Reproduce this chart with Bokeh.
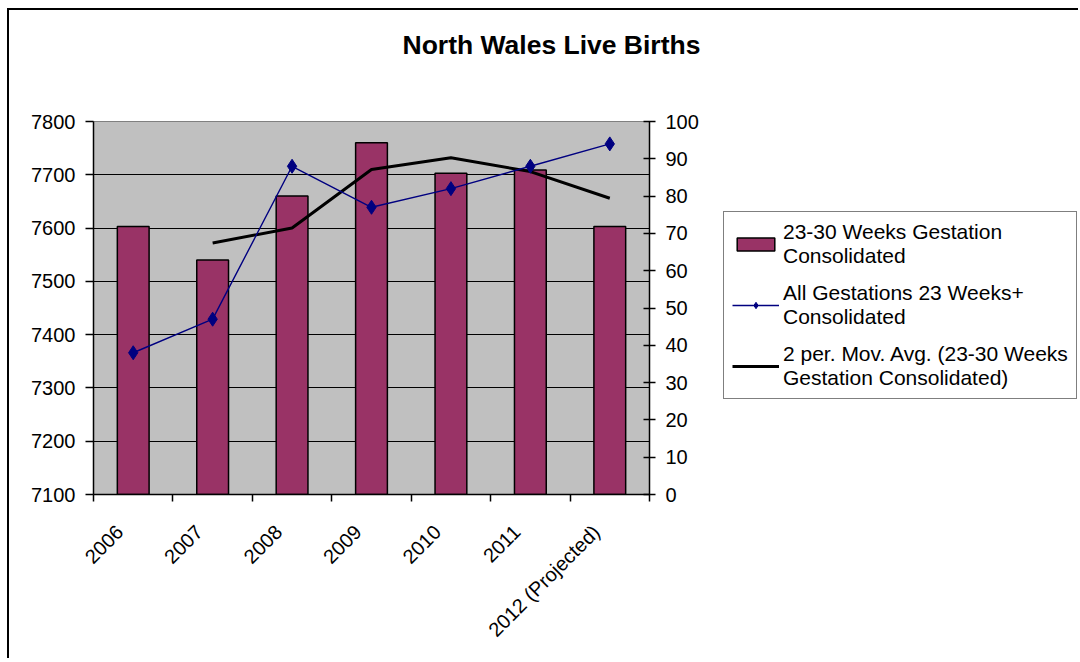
import math
import numpy as np
from bokeh.plotting import figure
from bokeh.layouts import row
from bokeh.models import (Range1d, LinearAxis, FixedTicker, SingleIntervalTicker,
                          Legend, LegendItem, Title)
from bokeh.embed import file_html
from bokeh.resources import INLINE

# ---- data ----
years = ["2006", "2007", "2008", "2009", "2010", "2011", "2012 (Projected)"]
births_23_30 = [7603, 7540, 7660, 7760, 7703, 7709, 7603]      # left axis, bars
all_gestations = [38, 47, 88, 77, 82, 88, 94]                   # right axis, line
moving_avg_years = ["2007", "2008", "2009", "2010", "2011", "2012 (Projected)"]
moving_avg = [7572, 7600, 7710, 7732, 7706, 7656]               # 2-period moving average

FONT = "Liberation Sans"
BAR_FILL = "#993366"
NAVY = "#000080"
LABEL_SHIFT = 0.17   # rotated category labels end slightly left of the category centre

pos = {yr: i + 0.5 for i, yr in enumerate(years)}
x = [pos[y] for y in years]
x_ma = [pos[y] for y in moving_avg_years]
label_pos = {y: pos[y] - LABEL_SHIFT for y in years}

p = figure(width=700, height=648, output_backend="svg", toolbar_location=None, tools="",
           x_range=Range1d(0, len(years)), y_range=Range1d(7100, 7800),
           min_border_left=84, min_border_right=60, min_border_top=111, min_border_bottom=164,
           background_fill_color="#C0C0C0", border_fill_color="white",
           outline_line_color="#808080", outline_line_width=1)
p.extra_y_ranges = {"right": Range1d(0, 100)}

# title (spacer title keeps the real one high above the plot area)
p.add_layout(Title(text=" ", text_font_size="10px", standoff=39), "above")
p.add_layout(Title(text="North Wales Live Births", align="left", offset=309, standoff=20,
                   text_font=FONT, text_font_size="26.5px", text_font_style="bold",
                   text_color="black"), "above")

# glyphs
bars = p.vbar(x=x, top=births_23_30, bottom=7100, width=0.4,
              fill_color=BAR_FILL, line_color="black", line_width=1.5)
ma = p.line(x_ma, moving_avg, line_color="black", line_width=3)
bl = p.line(x, all_gestations, line_color=NAVY, line_width=1.4, y_range_name="right")
bs = p.scatter(x, all_gestations, marker="diamond", size=14, fill_color=NAVY,
               line_color=NAVY, y_range_name="right")

# x axis: labels near centres, ticks at category boundaries
xa = p.xaxis[0]
xa.ticker = FixedTicker(ticks=[label_pos[y] for y in years],
                        minor_ticks=list(range(len(years) + 1)))
xa.major_label_overrides = {label_pos[y]: y for y in years}
xa.major_tick_out = 0
xa.major_tick_in = 0
xa.minor_tick_out = 7
xa.minor_tick_in = 0
xa.minor_tick_line_color = "black"
xa.minor_tick_line_width = 1.5
xa.major_label_orientation = math.pi / 4
xa.major_label_standoff = 27
xa.axis_line_color = "black"
xa.axis_line_width = 1.5
xa.major_label_text_font = FONT
xa.major_label_text_font_size = "20px"
xa.major_label_text_color = "black"
p.xgrid.visible = False

# left axis
ya = p.yaxis[0]
ya.ticker = SingleIntervalTicker(interval=100, num_minor_ticks=0)
ya.major_tick_out = 8
ya.major_tick_in = 0
ya.minor_tick_line_color = None
ya.major_label_standoff = 10
ya.axis_line_color = "black"
ya.axis_line_width = 1.5
ya.major_tick_line_width = 1.5
ya.major_label_text_font = FONT
ya.major_label_text_font_size = "20px"
ya.major_label_text_color = "black"
p.ygrid.grid_line_color = "black"
p.ygrid.grid_line_width = 1.2

# right axis
ra = LinearAxis(y_range_name="right",
                ticker=SingleIntervalTicker(interval=10, num_minor_ticks=0))
ra.major_tick_out = 6
ra.major_tick_in = 6
ra.minor_tick_line_color = None
ra.major_label_standoff = 10
ra.axis_line_color = "black"
ra.axis_line_width = 1.5
ra.major_tick_line_width = 1.5
ra.major_label_text_font = FONT
ra.major_label_text_font_size = "20px"
ra.major_label_text_color = "black"
p.add_layout(ra, "right")

# legend panel: a second figure to the right, holding hidden style proxies
q = figure(width=369, height=648, output_backend="svg", toolbar_location=None, tools="",
           x_range=Range1d(0, len(years)), y_range=Range1d(7100, 7800),
           x_axis_type=None, y_axis_type=None,
           min_border_left=0, min_border_right=0, min_border_top=0, min_border_bottom=0,
           background_fill_color="white", border_fill_color="white", outline_line_color=None)
q.extra_y_ranges = {"right": Range1d(0, 100)}
q.xgrid.visible = False
q.ygrid.visible = False
lb = q.vbar(x=x, top=births_23_30, bottom=7100, width=0.4, fill_color=BAR_FILL,
            line_color="black", line_width=1.5, visible=False)
ll = q.line(x, all_gestations, line_color=NAVY, line_width=1.4, y_range_name="right",
            visible=False)
ls = q.scatter(x, all_gestations, marker="diamond", size=11, fill_color=NAVY,
               line_color=NAVY, y_range_name="right", visible=False)
lm = q.line(x_ma, moving_avg, line_color="black", line_width=3, visible=False)

legend = Legend(items=[
    LegendItem(label="23-30 Weeks Gestation\nConsolidated", renderers=[lb]),
    LegendItem(label="All Gestations 23 Weeks+\nConsolidated", renderers=[ll, ls]),
    LegendItem(label="2 per. Mov. Avg. (23-30 Weeks\nGestation Consolidated)", renderers=[lm]),
], location=(14, 95))
legend.border_line_color = "black"
legend.border_line_width = 1.2
legend.background_fill_color = "white"
legend.background_fill_alpha = 1
legend.inactive_fill_alpha = 0
legend.label_text_font = FONT
legend.label_text_font_size = "21px"
legend.label_text_color = "black"
legend.glyph_width = 47
legend.glyph_height = 16
legend.label_standoff = 4
legend.padding = 8
legend.spacing = 13
legend.margin = 0
q.add_layout(legend)

layout = row(p, q, styles={"border-left": "2px solid black", "border-top": "2px solid black",
                           "margin-left": "7px", "margin-top": "8px"})

open("out.html", "w").write(file_html(layout, INLINE))
